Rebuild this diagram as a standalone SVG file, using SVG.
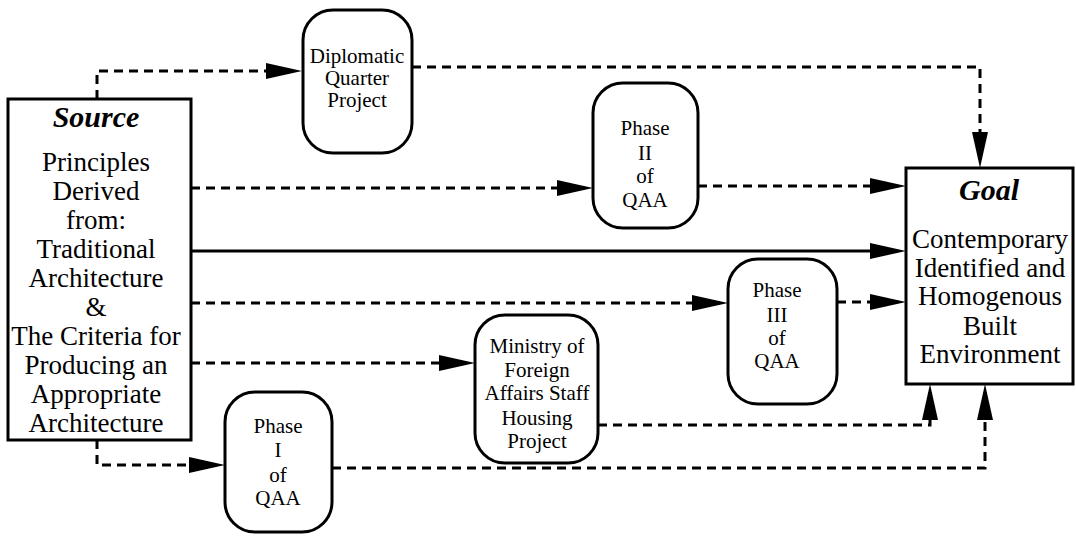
<svg xmlns="http://www.w3.org/2000/svg" width="1076" height="537" viewBox="0 0 1076 537">
<style>
.box{fill:#fff;stroke:#000;stroke-width:3}
.t{font-family:'Liberation Serif','DejaVu Serif',serif;fill:#000;text-anchor:middle}
.big{font-size:27px}
.sm{font-size:21px}
.title{font-size:30px;font-weight:bold;font-style:italic}
.c{fill:none;stroke:#000;stroke-width:3}
.d{stroke-dasharray:9 6}
</style>
<defs>
<marker id="ah" viewBox="0 0 36 16" refX="28" refY="8" markerWidth="36" markerHeight="16" markerUnits="userSpaceOnUse" orient="auto">
<path d="M0,0 L36,8 L0,16 Z" fill="#000"/>
</marker>
</defs>
<rect width="1076" height="537" fill="#fff"/>
<g id="connectors">
<path class="c d" d="M97,99 V71 H294" marker-end="url(#ah)"/>
<path class="c d" d="M412,67 H980 V160" marker-end="url(#ah)"/>
<path class="c d" d="M191,188 H585" marker-end="url(#ah)"/>
<path class="c d" d="M698,186 H898" marker-end="url(#ah)"/>
<path class="c" d="M191,251 H898" marker-end="url(#ah)"/>
<path class="c d" d="M191,303 H720" marker-end="url(#ah)"/>
<path class="c d" d="M837,302 H898" marker-end="url(#ah)"/>
<path class="c d" d="M191,363 H467" marker-end="url(#ah)"/>
<path class="c d" d="M598,425 H930 V392" marker-end="url(#ah)"/>
<path class="c d" d="M97,440 V465 H217" marker-end="url(#ah)"/>
<path class="c d" d="M332,468 H985 V392" marker-end="url(#ah)"/>
</g>
<g id="source">
<rect class="box" x="8" y="99" width="183" height="341"/>
<text class="t title" x="96" y="127">Source</text>
<text class="t big" x="96" y="171">Principles</text>
<text class="t big" x="96" y="200">Derived</text>
<text class="t big" x="96" y="229">from:</text>
<text class="t big" x="96" y="258">Traditional</text>
<text class="t big" x="96" y="287">Architecture</text>
<text class="t big" x="96" y="316">&amp;</text>
<text class="t big" x="96" y="345">The Criteria for</text>
<text class="t big" x="96" y="374">Producing an</text>
<text class="t big" x="96" y="403">Appropriate</text>
<text class="t big" x="96" y="432">Architecture</text>
</g>
<g id="diplomatic">
<rect class="box" x="303" y="10" width="109" height="143" rx="30" ry="30"/>
<text class="t sm" x="357" y="63">Diplomatic</text>
<text class="t sm" x="357" y="85">Quarter</text>
<text class="t sm" x="357" y="107">Project</text>
</g>
<g id="phase2">
<rect class="box" x="593" y="83" width="105" height="145" rx="30" ry="30"/>
<text class="t sm" x="645" y="135">Phase</text>
<text class="t sm" x="645" y="160">II</text>
<text class="t sm" x="645" y="183">of</text>
<text class="t sm" x="645" y="207">QAA</text>
</g>
<g id="phase3">
<rect class="box" x="728" y="259" width="109" height="145" rx="30" ry="30"/>
<text class="t sm" x="777" y="297">Phase</text>
<text class="t sm" x="777" y="322">III</text>
<text class="t sm" x="777" y="345">of</text>
<text class="t sm" x="777" y="368">QAA</text>
</g>
<g id="ministry">
<rect class="box" x="475" y="315" width="123" height="148" rx="30" ry="30"/>
<text class="t sm" x="537" y="353">Ministry of</text>
<text class="t sm" x="537" y="377">Foreign</text>
<text class="t sm" x="537" y="400">Affairs Staff</text>
<text class="t sm" x="537" y="425">Housing</text>
<text class="t sm" x="537" y="448">Project</text>
</g>
<g id="phase1">
<rect class="box" x="225" y="392" width="107" height="140" rx="30" ry="30"/>
<text class="t sm" x="278" y="433">Phase</text>
<text class="t sm" x="278" y="457">I</text>
<text class="t sm" x="278" y="482">of</text>
<text class="t sm" x="278" y="505">QAA</text>
</g>
<g id="goal">
<rect class="box" x="906" y="168" width="167" height="216"/>
<text class="t title" x="989" y="200">Goal</text>
<text class="t big" x="990" y="248">Contemporary</text>
<text class="t big" x="990" y="277">Identified and</text>
<text class="t big" x="990" y="305">Homogenous</text>
<text class="t big" x="990" y="335">Built</text>
<text class="t big" x="990" y="363">Environment</text>
</g>
</svg>
